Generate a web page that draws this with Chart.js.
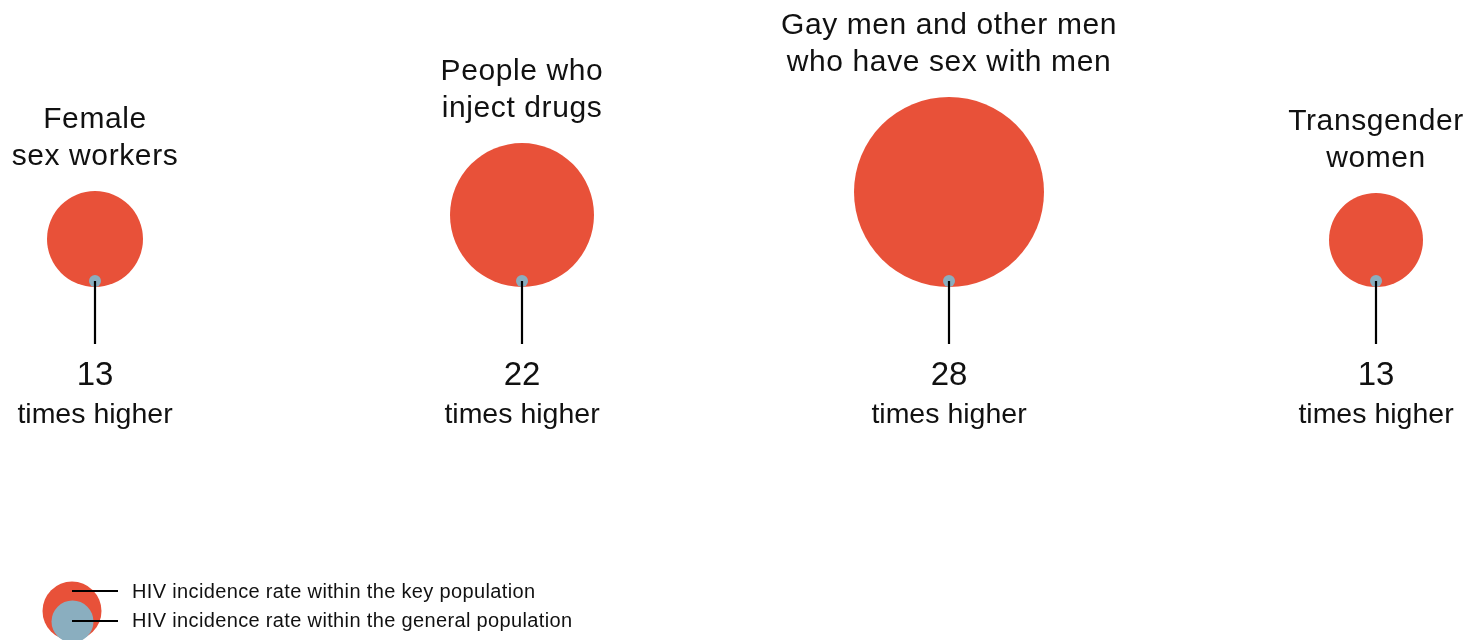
<!DOCTYPE html>
<html>
<head>
<meta charset="utf-8">
<script src="https://cdn.jsdelivr.net/npm/chart.js@4/dist/chart.umd.min.js"></script>
<style>
    html, body { margin: 0; padding: 0; background: #fff; }
    #wrap { width: 1464px; height: 640px; position: relative; }
</style>
</head>
<body>
<div id="wrap"><canvas id="chart" width="1464" height="640"></canvas></div>
<script>
// Data
const categories = ['Female sex workers', 'People who inject drugs', 'Gay men and other men who have sex with men', 'Transgender women'];
const categoryLines = [
    ['Female', 'sex workers'],
    ['People who', 'inject drugs'],
    ['Gay men and other men', 'who have sex with men'],
    ['Transgender', 'women']
];
const timesHigher = [13, 22, 28, 13];
// bubble radius for key population incidence
const keyRadius = [48, 72, 95, 47];
const generalRadius = [6, 6, 6, 6];

const RED = '#e85139';
const BLUE = '#8aaebf';
const FONT = '"Liberation Sans", Arial, sans-serif';

// y axis works in pixel units (0 at bottom, 640 at top), baseline is where the bubbles sit
const baseline = 353;
const stemLength = 63;

const keyData = categories.map((c, i) => ({ x: i, y: baseline + keyRadius[i], r: keyRadius[i] }));
const generalData = categories.map((c, i) => ({ x: i, y: baseline + generalRadius[i], r: generalRadius[i] }));
const stems = categories.map((c, i) => ({
    type: 'line',
    data: [{ x: i, y: baseline + generalRadius[i] }, { x: i, y: baseline + generalRadius[i] - stemLength }],
    borderColor: '#000',
    borderWidth: 2.2,
    pointRadius: 0,
    clip: false,
    order: 0
}));

// Labels above, numbers below, legend
const textPlugin = {
    id: 'textPlugin',
    afterDraw(chart) {
        const ctx = chart.ctx;
        const xs = chart.scales.x;
        const ys = chart.scales.y;
        ctx.save();
        ctx.fillStyle = '#111';
        ctx.textAlign = 'center';
        ctx.textBaseline = 'middle';
        categories.forEach((c, i) => {
            const x = xs.getPixelForValue(i);
            const top = ys.getPixelForValue(baseline + 2 * keyRadius[i]);
            const lines = categoryLines[i];
            ctx.font = '30px ' + FONT;
            ctx.letterSpacing = '0.6px';
            lines.forEach((t, j) => {
                ctx.fillText(t, x, top - 34 - (lines.length - 1 - j) * 37);
            });
            ctx.letterSpacing = '0px';
            const stemEnd = ys.getPixelForValue(baseline + generalRadius[i] - stemLength);
            ctx.font = '33px ' + FONT;
            ctx.fillText(String(timesHigher[i]), x, stemEnd + 32);
            ctx.font = '28.5px ' + FONT;
            ctx.fillText('times higher', x, stemEnd + 71);
        });

        // legend
        ctx.fillStyle = RED;
        ctx.beginPath();
        ctx.arc(72, 611, 29.5, 0, Math.PI * 2);
        ctx.fill();
        ctx.fillStyle = BLUE;
        ctx.beginPath();
        ctx.arc(72.5, 621.5, 21, 0, Math.PI * 2);
        ctx.fill();
        ctx.strokeStyle = '#000';
        ctx.lineWidth = 2.2;
        ctx.beginPath();
        ctx.moveTo(72, 591); ctx.lineTo(118, 591);
        ctx.moveTo(72, 621); ctx.lineTo(118, 621);
        ctx.stroke();
        ctx.fillStyle = '#111';
        ctx.textAlign = 'left';
        ctx.font = '20px ' + FONT;
        ctx.letterSpacing = '0.35px';
        ctx.fillText('HIV incidence rate within the key population', 132, 592);
        ctx.fillText('HIV incidence rate within the general population', 132, 621);
        ctx.restore();
    }
};

new Chart(document.getElementById('chart'), {
    type: 'bubble',
    data: {
        labels: categories,
        datasets: [
            ...stems,
            {
                label: 'HIV incidence rate within the general population',
                data: generalData,
                backgroundColor: BLUE,
                borderWidth: 0,
                clip: false,
                order: 1
            },
            {
                label: 'HIV incidence rate within the key population',
                data: keyData,
                backgroundColor: RED,
                borderWidth: 0,
                clip: false,
                order: 2
            }
        ]
    },
    options: {
        responsive: false,
        animation: false,
        layout: { autoPadding: false, padding: { left: 95, right: 88, top: 0, bottom: 0 } },
        scales: {
            x: { type: 'linear', min: 0, max: 3, display: false },
            y: { type: 'linear', min: 0, max: 640, display: false }
        },
        plugins: {
            legend: { display: false },
            tooltip: { enabled: false }
        },
        elements: { point: { hoverRadius: 0, hitRadius: 0 } }
    },
    plugins: [textPlugin]
});
</script>
</body>
</html>
